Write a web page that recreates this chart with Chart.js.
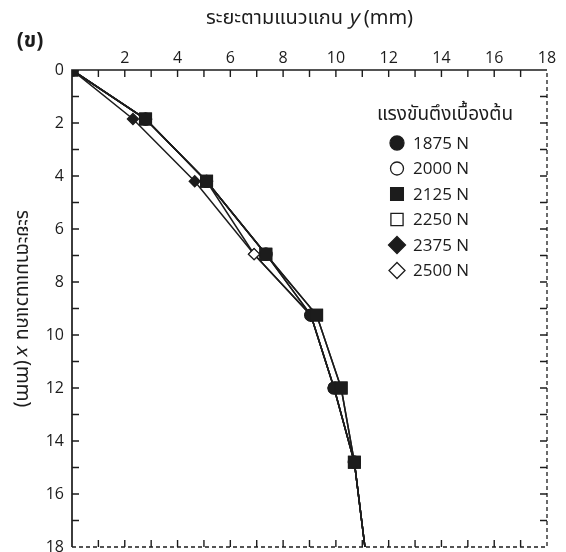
<!DOCTYPE html>
<html><head><meta charset="utf-8">
<script src="https://cdn.jsdelivr.net/npm/chart.js@4.4.1/dist/chart.umd.min.js"></script>
<style>html,body{margin:0;padding:0;background:#fff}#wrap{width:566px;height:552px;position:relative}</style>
</head><body><div id="wrap"><canvas id="c"></canvas></div>
<script>
// distance along x-axis (mm) -- vertical axis, shared by all series
const depthX = [0, 1.85, 4.2, 6.95, 9.25, 12.0, 14.8, 18];
// distance along y-axis (mm) per initial tension
const seriesNames = ['1875 N', '2000 N', '2125 N', '2250 N', '2375 N', '2500 N'];
const y1875 = [0, 2.79, 5.10, 7.35, 9.05, 9.93, 10.70, 11.10];
const y2000 = [0, 2.79, 5.10, 7.35, 9.05, 9.93, 10.70, 11.10];
const y2125 = [0, 2.79, 5.10, 7.35, 9.27, 10.20, 10.70, 11.10];
const y2250 = [0, 2.78, 5.10, 7.34, 9.27, 10.20, 10.70, 11.10];
const y2375 = [0, 2.31, 4.65, 6.90, 9.05, 9.93, 10.70, 11.10];
const y2500 = [0, 2.79, 5.10, 6.90, 9.05, 9.93, 10.70, 11.10];
const topTickLabels = [2, 4, 6, 8, 10, 12, 14, 16, 18];
const leftTickLabels = [0, 2, 4, 6, 8, 10, 12, 14, 16, 18];
const topTitle = ['ระยะตามแนวแกน ', 'y', ' (mm)'];
const sideTitle = ['ระยะตามแนวแกน ', 'x', ' (mm)'];
const panelTag = '(ข)';
const legendTitle = 'แรงขันตึงเบื้องต้น';

const INK = '#1c1c1c';
const FONT = '"Open Sans", "Noto Sans", sans-serif';
const THAI = '"Noto Sans Thai", "Noto Sans", "Open Sans", sans-serif';

const styles = [
  {pointStyle: 'circle', filled: true, r: 6, order: 1, lr: 7},
  {pointStyle: 'circle', filled: false, r: 6, order: 4, lr: 6.5},
  {pointStyle: 'rect', filled: true, r: 8.3, order: 0, lr: 9},
  {pointStyle: 'rect', filled: false, r: 8.3, order: 5, lr: 8.6},
  {pointStyle: 'rectRot', filled: true, r: 5.6, order: 3, lr: 8.5},
  {pointStyle: 'rectRot', filled: false, r: 5.6, order: 2, lr: 8}
];
const seriesValues = [y1875, y2000, y2125, y2250, y2375, y2500];

const datasets = seriesNames.map((name, i) => {
  const s = styles[i];
  return {
    label: name,
    data: seriesValues[i].map((v, k) => ({x: v, y: depthX[k]})),
    showLine: true,
    borderColor: INK,
    borderWidth: 1.5,
    pointStyle: s.pointStyle,
    pointRadius: depthX.map(d => d >= 18 ? 0 : s.r),
    pointBackgroundColor: s.filled ? INK : '#ffffff',
    pointBorderColor: INK,
    pointBorderWidth: 1.2,
    order: s.order,
    fill: false,
    tension: 0
  };
});

function drawMarker(ctx, style, r, filled, x, y) {
  ctx.save();
  ctx.beginPath();
  if (style === 'circle') {
    ctx.arc(x, y, r, 0, Math.PI * 2);
  } else if (style === 'rect') {
    const h = r * Math.SQRT1_2;
    ctx.rect(x - h, y - h, 2 * h, 2 * h);
  } else {
    ctx.moveTo(x, y - r); ctx.lineTo(x + r, y); ctx.lineTo(x, y + r); ctx.lineTo(x - r, y); ctx.closePath();
  }
  ctx.fillStyle = filled ? INK : '#fff';
  ctx.fill();
  ctx.lineWidth = 1.3;
  ctx.strokeStyle = INK;
  ctx.stroke();
  ctx.restore();
}

function drawMixed(ctx, parts, size, cx, cy) {
  const fonts = parts.map((p, i) => (i === 1 ? 'italic ' : '') + size + 'px ' + THAI);
  let total = 0;
  const widths = parts.map((p, i) => { ctx.font = fonts[i]; const w = ctx.measureText(p).width; total += w; return w; });
  let x = cx - total / 2;
  ctx.textBaseline = 'middle';
  ctx.textAlign = 'left';
  parts.forEach((p, i) => { ctx.font = fonts[i]; ctx.fillText(p, x, cy); x += widths[i]; });
}

const framePlugin = {
  id: 'frame',
  beforeDatasetsDraw(chart) {
    const {ctx, chartArea: a, scales} = chart;
    const xs = scales.x, ys = scales.y;
    ctx.save();
    ctx.strokeStyle = INK;
    ctx.lineWidth = 1.7;
    ctx.beginPath();
    ctx.moveTo(a.left, a.bottom); ctx.lineTo(a.left, a.top); ctx.lineTo(a.right, a.top);
    ctx.stroke();
    ctx.lineWidth = 1.3;
    ctx.setLineDash([4, 3]);
    ctx.beginPath();
    ctx.moveTo(a.left, a.bottom); ctx.lineTo(a.right, a.bottom); ctx.lineTo(a.right, a.top);
    ctx.stroke();
    ctx.setLineDash([]);
    const tl = 7;
    ctx.lineWidth = 1.4;
    ctx.beginPath();
    for (let v = 1; v < 18; v++) {
      const px = xs.getPixelForValue(v);
      ctx.moveTo(px, a.top); ctx.lineTo(px, a.top + tl);
      ctx.moveTo(px, a.bottom); ctx.lineTo(px, a.bottom - tl);
      const py = ys.getPixelForValue(v);
      ctx.moveTo(a.left, py); ctx.lineTo(a.left + tl, py);
      ctx.moveTo(a.right, py); ctx.lineTo(a.right - tl, py);
    }
    ctx.stroke();
    ctx.restore();
  },
  afterDraw(chart) {
    const {ctx, chartArea: a} = chart;
    ctx.save();
    ctx.fillStyle = INK;
    ctx.font = 'bold 21px ' + THAI;
    ctx.textAlign = 'center';
    ctx.textBaseline = 'middle';
    ctx.fillText(panelTag, 30, 43);
    drawMixed(ctx, topTitle, 20, (a.left + a.right) / 2, 20);
    ctx.save();
    ctx.translate(21, (a.top + a.bottom) / 2);
    ctx.rotate(Math.PI / 2);
    drawMixed(ctx, sideTitle, 19, 0, 0);
    ctx.restore();
    ctx.font = '19px ' + THAI;
    ctx.textAlign = 'center';
    ctx.textBaseline = 'middle';
    ctx.fillText(legendTitle, 445, 116);
    ctx.font = '17px ' + FONT;
    ctx.textAlign = 'left';
    seriesNames.forEach((name, i) => {
      const y = 143 + i * 25.5;
      drawMarker(ctx, styles[i].pointStyle, styles[i].lr, styles[i].filled, 397, y);
      ctx.fillText(name, 413, y + 1);
    });
    ctx.restore();
  }
};

new Chart(document.getElementById('c'), {
  type: 'scatter',
  data: {datasets},
  plugins: [framePlugin],
  options: {
    responsive: true,
    maintainAspectRatio: false,
    animation: false,
    layout: {autoPadding: false, padding: {left: 0, top: 0, right: 19, bottom: 5}},
    plugins: {legend: {display: false}, tooltip: {enabled: false}},
    scales: {
      x: {
        type: 'linear', position: 'top', min: 0, max: 18,
        grid: {display: false, drawTicks: false},
        border: {display: false},
        ticks: {
          stepSize: 1, autoSkip: false, maxRotation: 0, padding: 2,
          color: INK, font: {family: FONT, size: 16},
          callback: v => topTickLabels.includes(v) ? String(v) : ''
        },
        afterFit: s => { s.height = 70; s.paddingLeft = 0; s.paddingRight = 0; }
      },
      y: {
        type: 'linear', reverse: true, min: 0, max: 18,
        grid: {display: false, drawTicks: false},
        border: {display: false},
        ticks: {
          stepSize: 1, autoSkip: false, padding: 8,
          color: INK, font: {family: FONT, size: 16, lineHeight: 0.5},
          callback: v => leftTickLabels.includes(v) ? String(v) : ''
        },
        afterFit: s => { s.width = 72; s.paddingTop = 0; s.paddingBottom = 0; }
      }
    }
  }
});
</script>
</body></html>
